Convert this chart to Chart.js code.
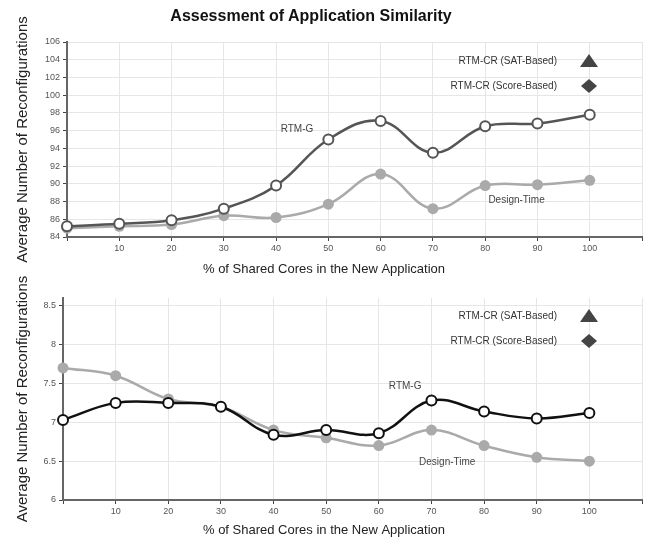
<!DOCTYPE html>
<html>
<head>
<meta charset="utf-8">
<script src="https://cdn.jsdelivr.net/npm/chart.js@4.4.1/dist/chart.umd.min.js"></script>
<style>
  body { margin: 0; background: #fff; width: 649px; height: 540px; position: relative; overflow: hidden; }
  #title { position: absolute; top: 7px; left: 0; width: 622px; text-align: center; z-index: 2;
           font: bold 16px "Liberation Sans", Arial, sans-serif; color: #111; }
  .box { position: absolute; left: 0; width: 649px; }
</style>
</head>
<body>
<div id="title">Assessment of Application Similarity</div>
<div class="box" style="top:0px;height:285px"><canvas id="topChart" width="649" height="285"></canvas></div>
<div class="box" style="top:270px;height:270px"><canvas id="bottomChart" width="649" height="270"></canvas></div>
<script>
// data
const sharedPct = [0, 10, 20, 30, 40, 50, 60, 70, 80, 90, 100];
const topRtmG = [85.2, 85.5, 85.9, 87.2, 89.8, 95.0, 97.1, 93.5, 96.5, 96.8, 97.8];
const topDesign = [85.0, 85.2, 85.4, 86.4, 86.2, 87.7, 91.1, 87.2, 89.8, 89.9, 90.4];
const bottomRtmG = [7.03, 7.25, 7.25, 7.2, 6.84, 6.9, 6.86, 7.28, 7.14, 7.05, 7.12];
const bottomDesign = [7.7, 7.6, 7.3, 7.2, 6.9, 6.8, 6.7, 6.9, 6.7, 6.55, 6.5];
const bottomYTicks = [6, 6.5, 7, 7.5, 8, 8.5];
const legendNames = ['RTM-CR (SAT-Based)', 'RTM-CR (Score-Based)'];
const xTitle = '% of Shared Cores in the New Application';

const FONT = '"Liberation Sans", Arial, sans-serif';

// draws the x title, inline series labels and the two marker-only legend entries
const notesPlugin = {
  id: 'notes',
  afterDatasetsDraw(chart, args, opts) {
    const { ctx, chartArea, scales } = chart;
    ctx.save();
    ctx.textBaseline = 'middle';
    ctx.textAlign = 'center';
    ctx.font = '13px ' + FONT;
    ctx.fillStyle = '#222';
    ctx.fillText(xTitle, 324, chartArea.bottom + opts.xTitleOffset);

    ctx.font = '10px ' + FONT;
    ctx.fillStyle = '#444';
    opts.labels.forEach(l => {
      ctx.fillText(l.text, scales.x.getPixelForValue(l.x), scales.y.getPixelForValue(l.y));
    });
    const mx = chartArea.right - 53;
    legendNames.forEach((name, i) => {
      const y = chartArea.top + opts.legendTop + i * 25;
      ctx.textAlign = 'right';
      ctx.fillStyle = '#333';
      ctx.fillText(name, mx - 32, y);
      ctx.fillStyle = '#444';
      ctx.beginPath();
      if (i === 0) {
        ctx.moveTo(mx, y - 7); ctx.lineTo(mx + 9, y + 6); ctx.lineTo(mx - 9, y + 6);
      } else {
        ctx.moveTo(mx, y - 7); ctx.lineTo(mx + 8, y); ctx.lineTo(mx, y + 7); ctx.lineTo(mx - 8, y);
      }
      ctx.closePath();
      ctx.fill();
    });
    ctx.restore();
  }
};

function makeChart(id, rtmG, design, rtmColor, yOpts, notes, pad) {
  return new Chart(document.getElementById(id), {
    type: 'line',
    data: {
      datasets: [
        { label: 'RTM-G', data: sharedPct.map((x, i) => ({ x, y: rtmG[i] })), clip: false,
          borderColor: rtmColor, borderWidth: 2.5, tension: 0.4,
          pointRadius: 5, pointBorderWidth: 2, pointBackgroundColor: '#fff', pointBorderColor: rtmColor },
        { label: 'Design-Time', data: sharedPct.map((x, i) => ({ x, y: design[i] })), clip: false,
          borderColor: '#aaa', borderWidth: 2.5, tension: 0.4,
          pointRadius: 5.5, pointBorderWidth: 0, pointBackgroundColor: '#aaa' }
      ]
    },
    options: {
      responsive: false,
      animation: false,
      layout: { padding: { top: pad.top, right: 7, left: 0, bottom: 0 } },
      plugins: { legend: { display: false }, tooltip: { enabled: false }, notes },
      scales: {
        x: {
          type: 'linear', min: 0, max: 110,
          afterFit: s => { s.height = pad.xh; },
          ticks: { stepSize: 10, padding: 2, color: '#555', font: { size: 9, family: FONT },
                   callback: v => (v === 0 || v === 110) ? '' : v },
          grid: { color: '#e6e6e6', tickColor: '#444', tickLength: 4 },
          border: { color: '#666', width: 2 }
        },
        y: Object.assign({
          afterFit: s => { s.width = pad.yw; },
          grid: { color: '#e6e6e6', tickColor: '#444', tickLength: 4 },
          border: { color: '#666', width: 2 },
          title: { display: true, text: 'Average Number of Reconfigurations', color: '#222',
                   font: { size: 15, family: FONT }, padding: { top: 14, bottom: 0 } }
        }, yOpts)
      }
    },
    plugins: [notesPlugin]
  });
}

makeChart('topChart', topRtmG, topDesign, '#555',
  { min: 84, max: 106, ticks: { stepSize: 2, padding: 3, color: '#555', font: { size: 9, family: FONT } } },
  { labels: [{ text: 'RTM-G', x: 44, y: 96.2 }, { text: 'Design-Time', x: 86, y: 88.1 }],
    legendTop: 19, xTitleOffset: 32 },
  { top: 42, xh: 48, yw: 67 });

makeChart('bottomChart', bottomRtmG, bottomDesign, '#111',
  { min: 6, max: 8.6, afterBuildTicks: s => { s.ticks = bottomYTicks.map(v => ({ value: v })); },
    ticks: { padding: 3, color: '#555', font: { size: 9, family: FONT }, callback: v => String(v) } },
  { labels: [{ text: 'RTM-G', x: 65, y: 7.46 }, { text: 'Design-Time', x: 73, y: 6.49 }],
    legendTop: 18, xTitleOffset: 30 },
  { top: 28, xh: 40, yw: 63 });
</script>
</body>
</html>
